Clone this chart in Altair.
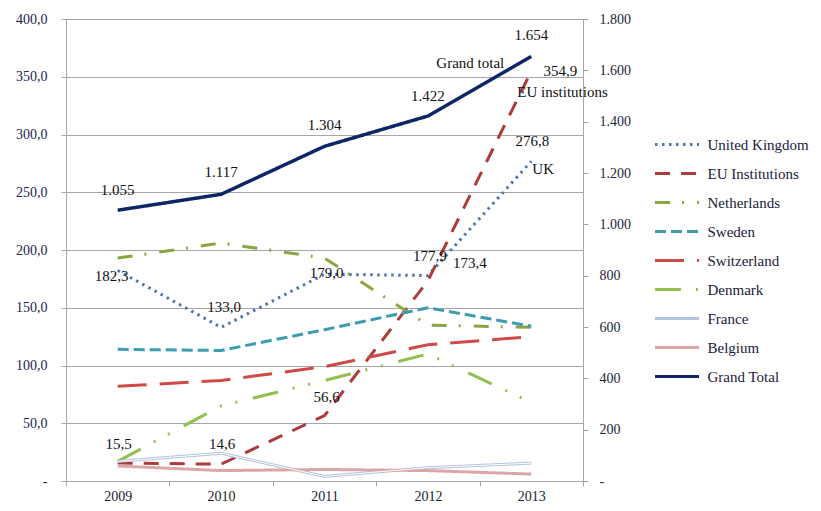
import altair as alt
import pandas as pd

# ---------------- data ----------------
years = ["2009", "2010", "2011", "2012", "2013"]
series_names = ["United Kingdom", "EU Institutions", "Netherlands", "Sweden",
                "Switzerland", "Denmark", "France", "Belgium", "Grand Total"]
uk = [182.3, 133.0, 179.0, 177.9, 276.8]
eu = [15.5, 14.6, 56.6, 173.4, 354.9]
netherlands = [193, 206, 193, 135, 133]
sweden = [114, 113, 131, 150, 134]
switzerland = [82, 87, 99, 118, 125]
denmark = [17, 65, 87, 110, 68]
france = [17, 24, 4, 11.5, 15.5]
belgium = [13, 9, 10, 9, 6]
grand_total = [1055, 1117, 1304, 1422, 1654]

left_ticks = [0, 50, 100, 150, 200, 250, 300, 350, 400]
right_ticks = [0, 200, 400, 600, 800, 1000, 1200, 1400, 1600, 1800]

# ---------------- styles ----------------
FONT = "Liberation Serif"
GRID = "#a6a6a6"
colors = ["#4f72b8", "#ad3b3b", "#8aa63e", "#3e9bb0", "#cf4a46",
          "#93c04c", "#b2c3de", "#dca6a6", "#0d2766"]
dashes = [[2.5, 4.5], [15, 11], [15, 12, 2, 13], [11, 5], [29, 13],
          [26, 15, 2, 14, 2, 16], [1, 0], [1, 0], [1, 0]]

rows = []
for name, vals in zip(series_names[:-1],
                      [uk, eu, netherlands, sweden, switzerland, denmark, france, belgium]):
    for y, v in zip(years, vals):
        rows.append({"year": y, "series": name, "value": v})
countries = pd.DataFrame(rows)
gt_df = pd.DataFrame({"year": years, "series": "Grand Total", "value": grand_total})

xscale = alt.Scale(type="band", domain=years, paddingInner=0, paddingOuter=0)
yl = alt.Scale(domain=[0, 400], nice=False, zero=True)
yr = alt.Scale(domain=[0, 1800], nice=False, zero=True)

x_axis = alt.Axis(title=None, tickBand="extent", labelAngle=0, domainColor=GRID,
                  tickColor=GRID, tickSize=5, labelPadding=3, labelFont=FONT,
                  labelFontSize=14, labelColor="#1c1c2c", grid=False)
left_axis = alt.Axis(title=None, values=left_ticks, grid=True, gridColor=GRID,
                     domainColor=GRID, tickColor=GRID, tickSize=5, labelPadding=14,
                     labelFont=FONT, labelFontSize=14, labelColor="#1c2452",
                     labelExpr="datum.value == 0 ? '-' : replace(format(datum.value, '.1f'), '.', ',')")
right_axis = alt.Axis(title=None, orient="right", values=right_ticks, grid=False,
                      domainColor=GRID, tickColor=GRID, tickSize=5, labelPadding=11,
                      labelFont=FONT, labelFontSize=14, labelColor="#22263a",
                      labelExpr="datum.value == 0 ? '-' : replace(format(datum.value, ','), ',', '.')")

legend = alt.Legend(title=None, orient="none", legendX=589, legendY=113)
color = alt.Color("series:N", scale=alt.Scale(domain=series_names, range=colors),
                  legend=legend, sort=series_names)
dash = alt.StrokeDash("series:N", scale=alt.Scale(domain=series_names, range=dashes),
                      legend=legend, sort=series_names)


def X():
    return alt.X("year:O", scale=xscale, bandPosition=0.5, axis=x_axis)


def YL():
    return alt.Y("value:Q", scale=yl, axis=left_axis)


def YR():
    return alt.Y("value:Q", scale=yr, axis=right_axis)


lines = alt.Chart(countries).mark_line(strokeWidth=3).encode(
    x=X(), y=YL(), color=color, strokeDash=dash, detail="series:N")

france_inner = alt.Chart(countries[countries.series == "France"]).mark_line(
    strokeWidth=1, color="white").encode(x=X(), y=YL())


def label(year, value, text, dx, dy, yfun, align="center"):
    df = pd.DataFrame({"year": [year], "value": [value], "t": [text]})
    return alt.Chart(df).mark_text(dx=dx, dy=dy, align=align, baseline="middle",
                                   font=FONT, fontSize=15, color="#111111").encode(
        x=X(), y=yfun(), text="t:N")


fmt1 = lambda v: f"{v:.1f}".replace(".", ",")
left_labels = [
    label(years[0], uk[0], fmt1(uk[0]), -6, 6, YL),
    label(years[1], uk[1], fmt1(uk[1]), 3, -20, YL),
    label(years[2], uk[2], fmt1(uk[2]), 2, -1, YL),
    label(years[3], uk[3], fmt1(uk[3]), 2, -20, YL),
    label(years[4], uk[4], fmt1(uk[4]), 1, -20, YL),
    label(years[4], uk[4], "UK", 1, 8, YL, "left"),
    label(years[3], eu[3], fmt1(eu[3]), 42, -18, YL),
    label(years[2], eu[2], fmt1(eu[2]), 2, -19, YL),
    label(years[0], eu[0], fmt1(eu[0]), 1, -19, YL),
    label(years[1], eu[1], fmt1(eu[1]), 1, -20, YL),
    label(years[4], eu[4], fmt1(eu[4]), 29, 0, YL),
    label(years[4], eu[4], "EU institutions", -14, 21, YL, "left"),
]

left = alt.layer(lines, france_inner, *left_labels)

gt_line = alt.Chart(gt_df).mark_line(strokeWidth=3.5).encode(
    x=X(), y=YR(), color=color, strokeDash=dash)

fmt_gt = lambda v: f"{v:,}".replace(",", ".")
gt_labels = [label(y, v, fmt_gt(v), 0, d, YR)
             for y, v, d in zip(years, grand_total, [-20, -22, -21, -20, -21])]
gt_labels.append(label(years[4], grand_total[4], "Grand total", -61, 7, YR))

right = alt.layer(gt_line, *gt_labels)

chart = alt.layer(left, right).resolve_scale(y="independent").properties(
    width=517, height=462,
    autosize=alt.AutoSizeParams(type="none"),
    padding={"left": 58, "top": 11, "right": 230, "bottom": 22},
).configure_view(stroke=None).configure_legend(
    symbolType="M-2,0H2", symbolSize=484, symbolStrokeWidth=3,
    labelFont=FONT, labelFontSize=15, labelColor="#1a1a3a",
    labelLimit=300, rowPadding=8, labelOffset=18, padding=0, symbolOffset=9.5,
)

chart.save("out.html", embed_options={"renderer": "svg", "actions": False})
